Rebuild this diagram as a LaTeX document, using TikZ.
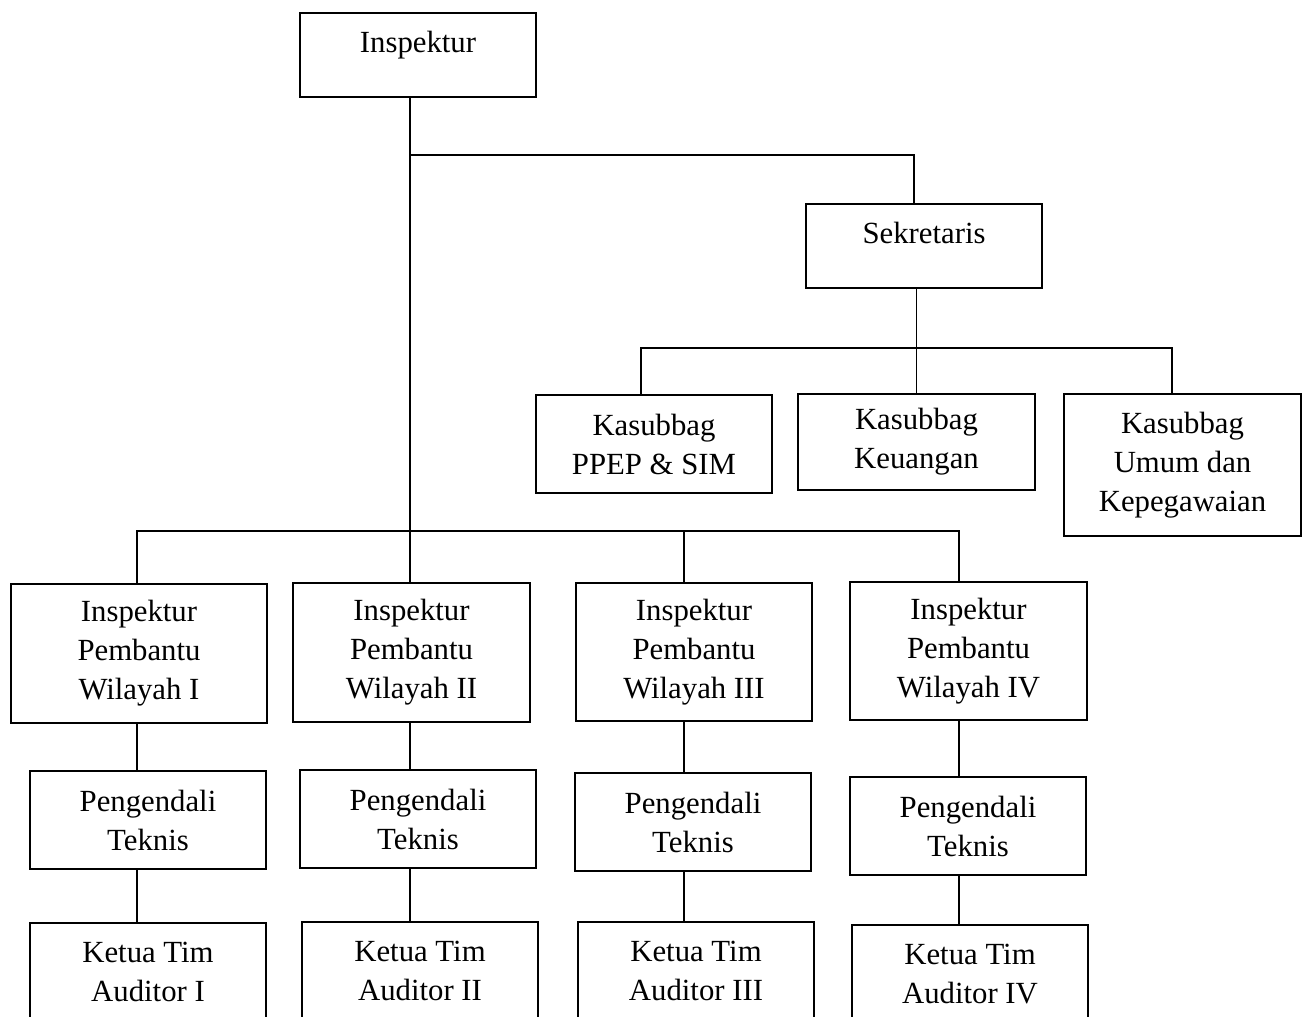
\documentclass[tikz,border=0pt]{standalone}
\usepackage{fontspec}
\setmainfont{Liberation Serif}
\usetikzlibrary{positioning}

\tikzset{
  orgbox/.style={draw, line width=1.2pt, align=center, minimum width=4.72cm,
    font=\fontsize{17.5}{22.2}\selectfont},
  headbox/.style={orgbox, minimum height=1.68cm, text height=0.42cm, text depth=0.53cm},
  link/.style={line width=0.6pt}
}

\begin{document}
\begin{tikzpicture}[x=0.2mm,y=-0.2mm]
\useasboundingbox (0,0) rectangle (1307,1016);
% top
\node[headbox] (insp) at (418,55) {Inspektur};
\node[headbox] (sek) at (924,246) {Sekretaris};
% kasubbag
\node[orgbox, minimum height=1.96cm] (ppep) at (654,444) {Kasubbag\\PPEP \& SIM};
\node[orgbox, minimum height=1.92cm, minimum width=4.74cm] (keu) at (916.5,442) {Kasubbag\\Keuangan};
\node[orgbox, minimum height=2.84cm, minimum width=4.74cm] (umum) at (1182.5,465) {Kasubbag\\Umum dan\\Kepegawaian};
% inspektur pembantu
\node[orgbox, minimum height=2.78cm, minimum width=5.12cm] (ipw1) at (139,653.5) {Inspektur\\Pembantu\\Wilayah I};
\node[orgbox, minimum height=2.78cm, minimum width=4.74cm] (ipw2) at (411.5,652.5) {Inspektur\\Pembantu\\Wilayah II};
\node[orgbox, minimum height=2.76cm] (ipw3) at (694,652) {Inspektur\\Pembantu\\Wilayah III};
\node[orgbox, minimum height=2.76cm, minimum width=4.74cm] (ipw4) at (968.5,651) {Inspektur\\Pembantu\\Wilayah IV};
% pengendali teknis
\node[orgbox, minimum height=1.96cm] (pt1) at (148,820) {Pengendali\\Teknis};
\node[orgbox, minimum height=1.96cm] (pt2) at (418,819) {Pengendali\\Teknis};
\node[orgbox, minimum height=1.96cm] (pt3) at (693,822) {Pengendali\\Teknis};
\node[orgbox, minimum height=1.96cm] (pt4) at (968,826) {Pengendali\\Teknis};
% ketua tim
\node[orgbox, minimum height=1.96cm] (kt1) at (148,972) {Ketua Tim\\Auditor I};
\node[orgbox, minimum height=1.96cm] (kt2) at (420,971) {Ketua Tim\\Auditor II};
\node[orgbox, minimum height=1.96cm] (kt3) at (696,971) {Ketua Tim\\Auditor III};
\node[orgbox, minimum height=1.96cm] (kt4) at (970,974) {Ketua Tim\\Auditor IV};

% bars
\coordinate (topL) at (410,155);
\coordinate (topR) at (914,155);
\coordinate (kL) at (641,348);
\coordinate (kR) at (1172,348);
\coordinate (c1) at (137,531);
\coordinate (c2) at (410,531);
\coordinate (c3) at (684,531);
\coordinate (c4) at (959,531);

\draw[link] (c2 |- insp.south) -- (c2 |- ipw2.north);
\draw[link] (topL) -- (topR) -- (topR |- sek.north);
\draw[link] (sek.south -| keu.north) -- (keu.north);
\draw[link] (kL |- ppep.north) -- (kL) -- (kR) -- (kR |- umum.north);
\draw[link] (c1 |- ipw1.north) -- (c1) -- (c4) -- (c4 |- ipw4.north);
\draw[link] (c3) -- (c3 |- ipw3.north);
% columns
\draw[link] (c1 |- ipw1.south) -- (c1 |- pt1.north);
\draw[link] (c2 |- ipw2.south) -- (c2 |- pt2.north);
\draw[link] (c3 |- ipw3.south) -- (c3 |- pt3.north);
\draw[link] (c4 |- ipw4.south) -- (c4 |- pt4.north);
\draw[link] (c1 |- pt1.south) -- (c1 |- kt1.north);
\draw[link] (c2 |- pt2.south) -- (c2 |- kt2.north);
\draw[link] (c3 |- pt3.south) -- (c3 |- kt3.north);
\draw[link] (c4 |- pt4.south) -- (c4 |- kt4.north);
\end{tikzpicture}
\end{document}
